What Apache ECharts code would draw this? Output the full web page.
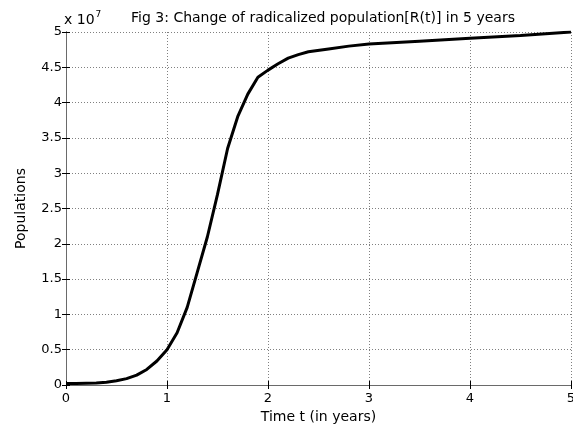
<!DOCTYPE html>
<html>
<head>
<meta charset="utf-8">
<script src="https://cdn.jsdelivr.net/npm/echarts@6/dist/echarts.min.js"></script>
<style>
  html, body { margin: 0; padding: 0; background: #fff; }
  #chart { width: 573px; height: 426px; }
</style>
</head>
<body>
<div id="chart"></div>
<script>
// time in years
const tYears = [0, 0.1, 0.2, 0.3, 0.4, 0.5, 0.6, 0.7, 0.8, 0.9, 1.0, 1.1, 1.2, 1.3, 1.4, 1.5, 1.6, 1.7, 1.8, 1.9, 2.0, 2.1, 2.2, 2.3, 2.4, 2.6, 2.8, 3.0, 3.5, 4.0, 4.5, 5.0]
// R(t), in units of 10^7
const radicalized = [0.02, 0.02, 0.025, 0.03, 0.04, 0.06, 0.09, 0.14, 0.22, 0.34, 0.5, 0.74, 1.1, 1.6, 2.1, 2.7, 3.35, 3.8, 4.12, 4.36, 4.46, 4.55, 4.63, 4.68, 4.72, 4.76, 4.8, 4.83, 4.87, 4.91, 4.95, 5.0]
const xTicks = [0, 1, 2, 3, 4, 5]
const yTicks = [0, 0.5, 1, 1.5, 2, 2.5, 3, 3.5, 4, 4.5, 5]

const font = 'DejaVu Sans, sans-serif'
const chart = echarts.init(document.getElementById('chart'))

const gridLine = { show: true, lineStyle: { color: '#808080', type: [1, 2], width: 1 } }
const inTick = { show: true, inside: true, length: 4, lineStyle: { color: '#000' } }
// top / right sides of the box: ticks only, no labels
const boxSide = {
  axisLine: { show: true, lineStyle: { color: '#6a6a6a' } },
  axisTick: inTick,
  axisLabel: { show: false },
  splitLine: { show: false },
}

const points = tYears.map((t, i) => [t, radicalized[i]])

const option = {
  animation: false,
  title: {
    text: 'Fig 3: Change of radicalized population[R(t)] in 5 years',
    left: 318, top: 6, textAlign: 'center',
    textStyle: { fontFamily: font, fontSize: 14, fontWeight: 'normal', color: '#000' }
  },
  grid: { left: 66, right: 2, top: 32, bottom: 41, outerBoundsMode: 'none' },
  xAxis: [
    {
      type: 'value', min: 0, max: 5, interval: 1,
      name: 'Time t (in years)', nameLocation: 'middle', nameGap: 25,
      nameTextStyle: { fontFamily: font, fontSize: 14, color: '#000' },
      axisLine: { show: true, lineStyle: { color: '#000' } },
      axisTick: inTick,
      axisLabel: { fontFamily: font, fontSize: 13, color: '#000', margin: 7,
        formatter: v => xTicks.includes(v) ? String(v) : '' },
      splitLine: gridLine
    },
    Object.assign({ type: 'value', min: 0, max: 5, interval: 1, position: 'top' }, boxSide)
  ],
  yAxis: [
    {
      type: 'value', min: 0, max: 5, interval: 0.5,
      name: 'Populations', nameLocation: 'middle', nameGap: 38,
      nameTextStyle: { fontFamily: font, fontSize: 14, color: '#000' },
      axisLine: { show: true, lineStyle: { color: '#000' } },
      axisTick: inTick,
      axisLabel: { fontFamily: font, fontSize: 13, color: '#000', margin: 4,
        formatter: v => yTicks.includes(v) ? String(v) : '' },
      splitLine: gridLine
    },
    Object.assign({ type: 'value', min: 0, max: 5, interval: 0.5, position: 'right' }, boxSide)
  ],
  graphic: [{
    type: 'text', left: 64, top: 10,
    style: {
      text: '{b|x 10}{s|7}',
      rich: {
        b: { fontFamily: font, fontSize: 14, fill: '#000', verticalAlign: 'bottom' },
        s: { fontFamily: font, fontSize: 9, fill: '#000', verticalAlign: 'top', padding: [0, 0, 8, 1] }
      }
    }
  }],
  series: [
    {
      type: 'line',
      data: points,
      showSymbol: false,
      smooth: false,
      lineStyle: { color: '#000', width: 3 },
      z: 5
    },
    {
      // invisible copy bound to the box axes so they are drawn
      type: 'line',
      xAxisIndex: 1, yAxisIndex: 1,
      data: points,
      showSymbol: false,
      silent: true,
      lineStyle: { opacity: 0 }
    }
  ]
}
chart.setOption(option)
</script>
</body>
</html>
